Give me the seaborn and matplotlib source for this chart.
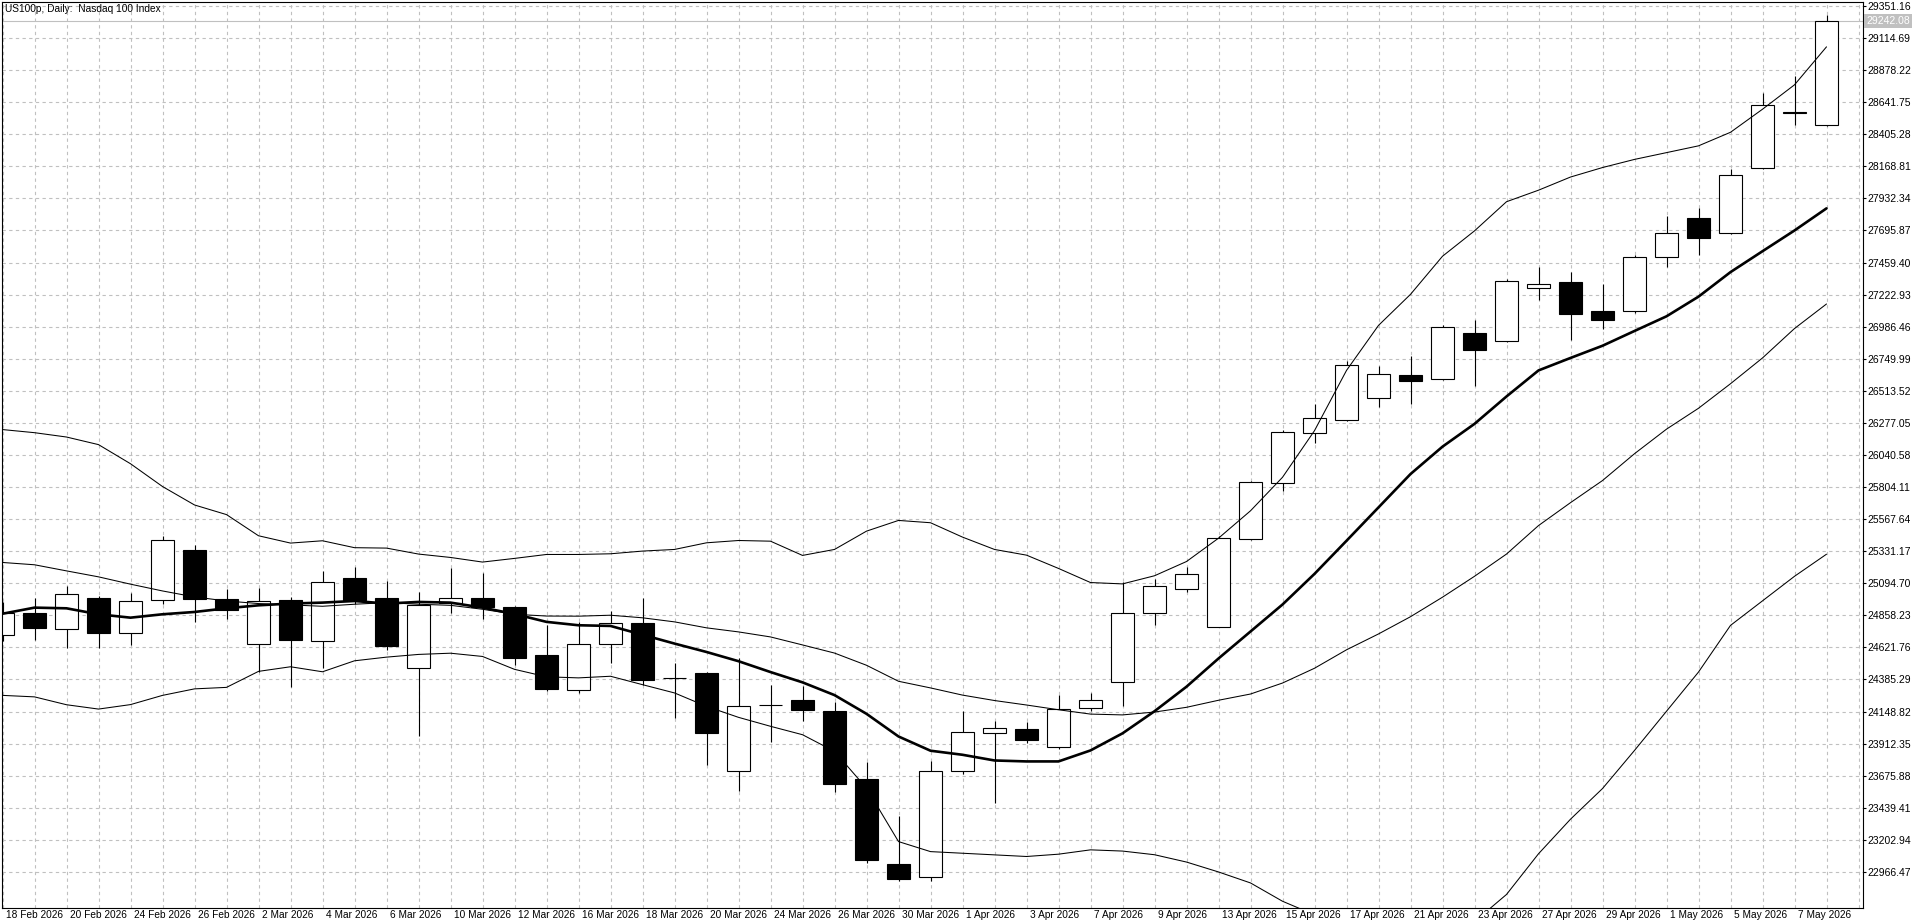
import numpy as np
import pandas as pd
import matplotlib.pyplot as plt
import matplotlib.transforms as mtransforms
import seaborn as sns


TITLE = "US100p, Daily:  Nasdaq 100 Index"
LAST_PRICE = 29242.08

DATES = [
    "18 Feb 2026", "19 Feb 2026", "20 Feb 2026", "23 Feb 2026", "24 Feb 2026",
    "25 Feb 2026", "26 Feb 2026", "27 Feb 2026", "2 Mar 2026", "3 Mar 2026",
    "4 Mar 2026", "5 Mar 2026", "6 Mar 2026", "9 Mar 2026", "10 Mar 2026",
    "11 Mar 2026", "12 Mar 2026", "13 Mar 2026", "16 Mar 2026", "17 Mar 2026",
    "18 Mar 2026", "19 Mar 2026", "20 Mar 2026", "23 Mar 2026", "24 Mar 2026",
    "25 Mar 2026", "26 Mar 2026", "27 Mar 2026", "30 Mar 2026", "31 Mar 2026",
    "1 Apr 2026", "2 Apr 2026", "3 Apr 2026", "6 Apr 2026", "7 Apr 2026",
    "8 Apr 2026", "9 Apr 2026", "10 Apr 2026", "13 Apr 2026", "14 Apr 2026",
    "15 Apr 2026", "16 Apr 2026", "17 Apr 2026", "20 Apr 2026", "21 Apr 2026",
    "22 Apr 2026", "23 Apr 2026", "24 Apr 2026", "27 Apr 2026", "28 Apr 2026",
    "29 Apr 2026", "30 Apr 2026", "1 May 2026", "4 May 2026", "5 May 2026",
    "6 May 2026", "7 May 2026", "8 May 2026",
]

OPEN = [24712, 24873, 24757, 24986, 24730, 24972, 25342, 24979, 24649, 24972,
        24667, 25134, 24986, 24467, 24947, 24986, 24918, 24564, 24308, 24650,
        24800, 24398, 24430, 23707, 24195, 24237, 24150, 23653, 23028, 22932,
        23707, 23993, 24022, 23884, 24178, 24368, 24875, 25056, 24775, 25420,
        25834, 26203, 26299, 26462, 26634, 26602, 26942, 26883, 27275, 27316,
        27099, 27099, 27497, 27787, 27678, 28157, 28560, 28474]
HIGH = [24960, 24989, 25075, 25001, 25026, 25446, 25376, 25051, 25063, 24990,
        25186, 25216, 25112, 25033, 25204, 25167, 24925, 24790, 24810, 24889,
        24987, 24507, 24440, 24544, 24342, 24335, 24220, 23776, 23382, 23781,
        24155, 24076, 24071, 24273, 24287, 25101, 25128, 25218, 25440, 25851,
        26228, 26417, 26733, 26693, 26767, 27001, 27033, 27339, 27427, 27389,
        27298, 27515, 27805, 27859, 28148, 28709, 28836, 29288]
LOW = [24666, 24675, 24621, 24621, 24640, 24940, 24811, 24830, 24441, 24332,
       24467, 24940, 24600, 23970, 24875, 24829, 24490, 24300, 24286, 24507,
       24342, 24101, 23756, 23564, 23924, 24076, 23555, 23030, 22900, 22900,
       23690, 23473, 23916, 23870, 24151, 24187, 24784, 25028, 24770, 25412,
       25777, 26129, 26290, 26393, 26417, 26595, 26548, 26875, 27186, 26891,
       26973, 27090, 27425, 27515, 27670, 28150, 28474, 28470]
CLOSE = [24875, 24766, 25014, 24730, 24962, 25416, 24981, 24900, 24962, 24676,
         25102, 24972, 24630, 24935, 24984, 24922, 24544, 24315, 24650, 24798,
         24383, 24394, 23990, 24186, 24199, 24160, 23614, 23055, 22915, 23712,
         24000, 24030, 23941, 24170, 24232, 24875, 25074, 25164, 25427, 25844,
         26213, 26314, 26701, 26639, 26587, 26981, 26814, 27321, 27304, 27082,
         27036, 27497, 27678, 27642, 28103, 28619, 28568, 29242.08]

# thick moving average
MA_FAST = [24870, 24915, 24910, 24866, 24841, 24866, 24883, 24910, 24932, 24945,
           24952, 24964, 24945, 24957, 24952, 24915, 24868, 24810, 24785, 24780,
           24715, 24650, 24588, 24520, 24440, 24364, 24270, 24132, 23965, 23860,
           23830, 23788, 23781, 23781, 23862, 23988, 24151, 24332, 24540, 24739,
           24938, 25164, 25408, 25654, 25900, 26102, 26270, 26472, 26664, 26756,
           26846, 26955, 27063, 27208, 27389, 27543, 27696, 27859]

# bollinger bands
BB_UPPER = [26228, 26205, 26173, 26117, 25976, 25808, 25672, 25601, 25445, 25391,
            25408, 25357, 25354, 25310, 25285, 25251, 25278, 25307, 25307, 25312,
            25332, 25344, 25393, 25410, 25405, 25300, 25344, 25479, 25558, 25541,
            25435, 25344, 25302, 25204, 25100, 25090, 25150, 25255, 25427, 25629,
            25876, 26220, 26664, 26996, 27225, 27506, 27693, 27908, 27993, 28090,
            28160, 28220, 28270, 28320, 28420, 28590, 28770, 29050]
BB_MIDDLE = [25248, 25231, 25186, 25142, 25088, 25038, 24994, 24964, 24945, 24935,
             24925, 24940, 24952, 24940, 24932, 24903, 24866, 24853, 24852, 24859,
             24840, 24810, 24766, 24736, 24699, 24640, 24580, 24490, 24372, 24323,
             24270, 24230, 24197, 24162, 24130, 24124, 24145, 24180, 24232, 24278,
             24359, 24468, 24604, 24721, 24848, 24992, 25146, 25310, 25520, 25689,
             25852, 26050, 26231, 26385, 26566, 26756, 26973, 27154]
BB_LOWER = [24268, 24257, 24199, 24167, 24200, 24268, 24316, 24327, 24445, 24479,
            24442, 24523, 24550, 24570, 24579, 24555, 24460, 24405, 24397, 24409,
            24347, 24286, 24187, 24106, 24040, 23978, 23855, 23584, 23190, 23116,
            23104, 23092, 23080, 23097, 23129, 23120, 23093, 23039, 22966, 22885,
            22750, 22650, 22540, 22450, 22470, 22480, 22600, 22800, 23100, 23355,
            23581, 23862, 24151, 24440, 24784, 24965, 25146, 25309]

PRICE_TICKS = [29351.16, 29114.69, 28878.22, 28641.75, 28405.28, 28168.81,
               27932.34, 27695.87, 27459.40, 27222.93, 26986.46, 26749.99,
               26513.52, 26277.05, 26040.58, 25804.11, 25567.64, 25331.17,
               25094.70, 24858.23, 24621.76, 24385.29, 24148.82, 23912.35,
               23675.88, 23439.41, 23202.94, 22966.47]

GRID_COLOR = "#c0c0c0"


def get_dataframe() -> pd.DataFrame:
    return pd.DataFrame({
        "bar": np.arange(len(DATES)),
        "date": DATES,
        "open": OPEN,
        "high": HIGH,
        "low": LOW,
        "close": CLOSE,
        "ma": MA_FAST,
        "upper": BB_UPPER,
        "middle": BB_MIDDLE,
        "lower": BB_LOWER,
    })


def draw_candles(ax, df: pd.DataFrame):
    ax.vlines(df["bar"], df["low"], df["high"], color="black", linewidth=0.8, zorder=2)
    bull = df["close"] >= df["open"]
    bottom = np.minimum(df["open"], df["close"])
    height = np.maximum(np.abs(df["close"] - df["open"]), 1.0)
    ax.bar(df["bar"], height, bottom=bottom, width=0.7,
           color=np.where(bull, "white", "black"), edgecolor="black",
           linewidth=0.8, zorder=2.5)


def draw_lines(ax, df: pd.DataFrame):
    for col in ["upper", "middle", "lower"]:
        sns.lineplot(data=df, x="bar", y=col, ax=ax, color="black",
                     linewidth=0.75, zorder=3)
    sns.lineplot(data=df, x="bar", y="ma", ax=ax, color="black",
                 linewidth=1.9, zorder=3.5)


def main():
    sns.set_theme(style="white")
    plt.rcParams["font.family"] = ["Liberation Sans", "DejaVu Sans"]

    df = get_dataframe()

    W, H = 1920, 923
    fig = plt.figure(figsize=(W / 100, H / 100), dpi=100)
    fig.patch.set_facecolor("white")
    left, right, top, bottom = 2, 1863, 2, 908
    ax = fig.add_axes([left / W, (H - bottom) / H, (right - left) / W, (bottom - top) / H])
    ax.set_facecolor("white")

    ax.axhline(LAST_PRICE, color=GRID_COLOR, linewidth=0.8, zorder=1)
    draw_candles(ax, df)
    draw_lines(ax, df)

    step = 236.47 / 32.07
    ax.set_ylim(PRICE_TICKS[0] - 902 * step, PRICE_TICKS[0] + 4 * step)
    ax.set_xlim((left - 2.5) / 32.0, (right - 2.5) / 32.0)

    # axes, ticks and grid
    ax.set_yticks(PRICE_TICKS)
    ax.set_yticklabels([f"{v:.2f}" for v in PRICE_TICKS])
    ax.yaxis.tick_right()
    ax.tick_params(axis="y", direction="out", length=2.5, width=0.8, pad=1,
                   labelsize=7.5, colors="black", right=True, left=False)

    ax.set_xticks(df["bar"][::2])
    ax.set_xticklabels(df["date"][::2])
    ax.set_xticks(np.arange(0, 59), minor=True)
    ax.tick_params(axis="x", which="major", direction="out", length=4, width=0.8,
                   pad=-2.5, labelsize=7.3, colors="black")
    ax.tick_params(axis="x", which="minor", length=0)
    offset = mtransforms.ScaledTranslation(3 / 100, 0, fig.dpi_scale_trans)
    for label in ax.get_xticklabels():
        label.set_horizontalalignment("left")
        label.set_transform(label.get_transform() + offset)

    ax.grid(True, axis="x", which="both", color=GRID_COLOR,
            linestyle=(0, (3, 3)), linewidth=0.8)
    ax.grid(True, axis="y", which="major", color=GRID_COLOR,
            linestyle=(0, (3, 3)), linewidth=0.8)
    ax.set_axisbelow(True)

    for spine in ax.spines.values():
        spine.set_color("black")
        spine.set_linewidth(0.8)
        spine.set_visible(True)

    ax.set_xlabel("")
    ax.set_ylabel("")

    # title and current price marker
    fig.text(5 / W, 1 - 4 / H, TITLE, ha="left", va="top", fontsize=7.3, color="black")
    trans = mtransforms.blended_transform_factory(ax.transAxes, ax.transData)
    ax.text(1.0, LAST_PRICE, f"{LAST_PRICE:.2f}", transform=trans + offset,
            ha="left", va="center", fontsize=7.5, color="white", clip_on=False,
            bbox=dict(facecolor=GRID_COLOR, edgecolor="none", pad=1.5))

    fig.savefig("out.png", dpi=100, facecolor="white")


if __name__ == "__main__":
    main()
